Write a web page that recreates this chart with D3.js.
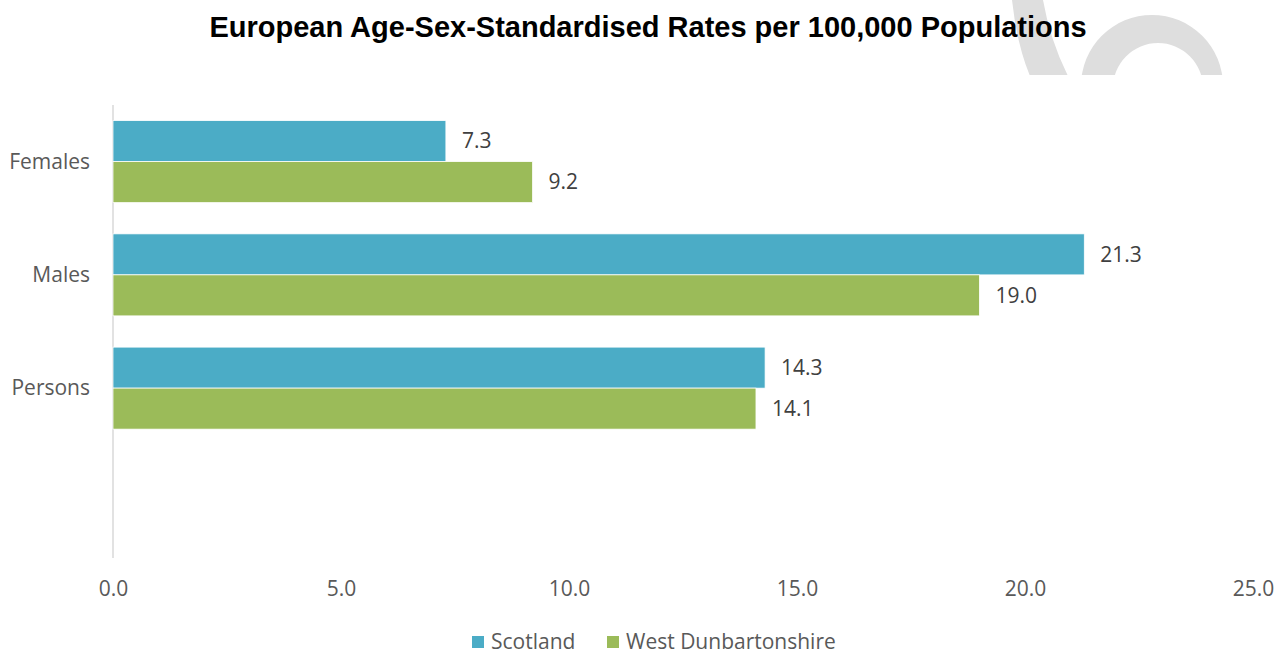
<!DOCTYPE html>
<html>
<head>
<meta charset="utf-8">
<script src="https://cdn.jsdelivr.net/npm/d3@7"></script>
<style>
  html, body { margin: 0; padding: 0; background: #fff; }
  svg { display: block; }
</style>
</head>
<body>
<svg id="chart" width="1284" height="654"></svg>
<script>
const title = "European Age-Sex-Standardised Rates per 100,000 Populations";
const categories = ["Females", "Males", "Persons"];
const seriesNames = ["Scotland", "West Dunbartonshire"];
const scotland = [7.3, 21.3, 14.3];
const westDunbartonshire = [9.2, 19.0, 14.1];
const xTicks = [0, 5, 10, 15, 20, 25];
const colors = ["#4BACC6", "#9BBB59"];

const svg = d3.select("#chart");
const W = 1284, H = 654;
const font = "'Open Sans', sans-serif";
const textColor = "#595959";
const fs = 21;

// decorative watermark arcs (top-right)
const deco = svg.append("g");
deco.append("clipPath").attr("id", "decoClip")
  .append("rect").attr("x", 0).attr("y", 0).attr("width", W).attr("height", 75);
const dg = deco.append("g").attr("clip-path", "url(#decoClip)").attr("fill", "#dedede");
dg.append("path")
  .attr("fill-rule", "evenodd")
  .attr("d", () => {
    const o = d3.path(); o.arc(1152, 86, 71, 0, 2 * Math.PI);
    const i = d3.path(); i.moveTo(1158 + 45, 88); i.arc(1158, 88, 45, 0, 2 * Math.PI);
    return o.toString() + i.toString();
  });
dg.append("path").attr("d", "M1012,0 Q1017,45 1030,76 L1068,76 Q1050,40 1043,0 Z");

// scales
const x = d3.scaleLinear().domain([0, 25]).range([113, 1253]);
const y = d3.scaleBand().domain([...categories, ""]).range([105, 558]).padding(0);
const groupFrac = 0.724;
const barH = y.bandwidth() * groupFrac / 2;

// title
svg.append("text")
  .attr("x", 648).attr("y", 37)
  .attr("text-anchor", "middle")
  .attr("font-family", "'Liberation Sans', Arial, sans-serif")
  .attr("font-weight", "bold")
  .attr("font-size", 29)
  .attr("fill", "#000")
  .text(title);

// vertical axis line
svg.append("line")
  .attr("x1", x(0)).attr("x2", x(0))
  .attr("y1", y.range()[0]).attr("y2", y.range()[1])
  .attr("stroke", "#d9d9d9").attr("stroke-width", 1.5);

// bars
const series = [scotland, westDunbartonshire];
series.forEach((vals, si) => {
  const g = svg.append("g");
  const rows = categories.map((c, i) => ({ c, v: vals[i] }));
  g.selectAll("rect").data(rows).join("rect")
    .attr("x", x(0))
    .attr("y", d => y(d.c) + y.bandwidth() / 2 - barH + si * barH)
    .attr("width", d => x(d.v) - x(0))
    .attr("height", barH)
    .attr("fill", colors[si])
    .attr("stroke", "#fff").attr("stroke-width", 0.75);
  g.selectAll("text").data(rows).join("text")
    .attr("x", d => x(d.v) + 16)
    .attr("y", d => y(d.c) + y.bandwidth() / 2 - barH + si * barH + barH / 2)
    .attr("dy", "0.35em")
    .attr("font-family", font).attr("font-size", fs)
    .attr("fill", "#404040")
    .text(d => d.v.toFixed(1));
});

// category labels
svg.append("g").selectAll("text").data(categories).join("text")
  .attr("x", 90)
  .attr("y", d => y(d) + y.bandwidth() / 2)
  .attr("dy", "0.35em")
  .attr("text-anchor", "end")
  .attr("font-family", font).attr("font-size", fs)
  .attr("fill", textColor)
  .text(d => d);

// x axis tick labels
const xAxis = d3.axisBottom(x).tickValues(xTicks).tickFormat(d3.format(".1f")).tickSize(0).tickPadding(0);
const xg = svg.append("g").attr("transform", `translate(0,589)`).call(xAxis);
xg.select(".domain").remove();
xg.selectAll("text")
  .attr("dy", "0.35em").attr("y", 0)
  .attr("font-family", font).attr("font-size", fs)
  .attr("fill", textColor);

// legend
const legendX = [472, 607];
const lg = svg.append("g");
seriesNames.forEach((n, i) => {
  lg.append("rect").attr("x", legendX[i]).attr("y", 636).attr("width", 12).attr("height", 12).attr("fill", colors[i]);
  lg.append("text").attr("x", legendX[i] + 19).attr("y", 642).attr("dy", "0.35em")
    .attr("font-family", font).attr("font-size", fs).attr("fill", textColor).text(n);
});
</script>
</body>
</html>
